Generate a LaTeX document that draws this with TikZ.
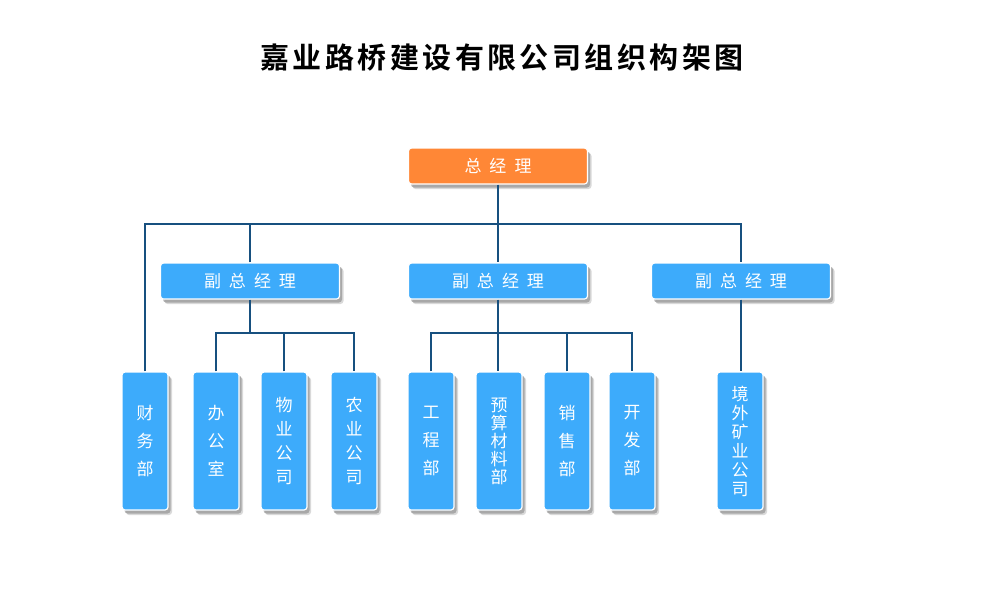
\documentclass[tikz,border=0pt]{standalone}
\usepackage{fontspec}
\setmainfont{Noto Sans CJK SC}
\newfontfamily\titlefont[LetterSpace=12]{Noto Sans CJK SC Bold}
\usetikzlibrary{shadows}
\newcommand{\cjkgap}{\hspace{8pt}}
\definecolor{bossorange}{HTML}{FF8736}
\definecolor{deptblue}{HTML}{3DABFB}
\definecolor{linkblue}{HTML}{17507F}

\begin{document}
\begin{tikzpicture}[x=1pt,y=-1pt,
    box/.style={draw=white, line width=1.2pt, rounded corners=3pt, text=white,
        drop shadow={shadow xshift=4pt, shadow yshift=-5pt, opacity=0.3},
        drop shadow={shadow xshift=2.5pt, shadow yshift=-3.5pt, opacity=0.55}},
    headbox/.style={box, fill=bossorange, minimum width=179pt, minimum height=36pt,
        font=\fontsize{17}{20}\selectfont},
    vpbox/.style={box, fill=deptblue, minimum width=179pt, minimum height=36pt,
        font=\fontsize{17}{20}\selectfont},
    deptbox/.style={box, fill=deptblue, minimum width=46pt, minimum height=138pt,
        inner sep=0pt, align=center},
    conn/.style={linkblue, line width=2pt}]
    \useasboundingbox (0,0) rectangle (1000,600);

    % Title
    \node (title) at (502,57) {\titlefont\fontsize{29}{33}\selectfont 嘉业路桥建设有限公司组织构架图};

    % General manager
    \node[headbox] (gm) at (498,166) {总\cjkgap 经\cjkgap 理};

    % Deputy general managers
    \node[vpbox] (vpl) at (250,281) {副\cjkgap 总\cjkgap 经\cjkgap 理};
    \node[vpbox] (vpm) at (498,281) {副\cjkgap 总\cjkgap 经\cjkgap 理};
    \node[vpbox] (vpr) at (741,281) {副\cjkgap 总\cjkgap 经\cjkgap 理};

    % Departments
    \node[deptbox, font=\fontsize{17}{28}\selectfont] (cw) at (145,441) {财\\务\\部};
    \node[deptbox, font=\fontsize{17}{28}\selectfont] (bg) at (216,441) {办\\公\\室};
    \node[deptbox, font=\fontsize{17}{24}\selectfont] (wy) at (284,441) {物\\业\\公\\司};
    \node[deptbox, font=\fontsize{17}{24}\selectfont] (ny) at (354,441) {农\\业\\公\\司};
    \node[deptbox, font=\fontsize{17}{28}\selectfont] (gc) at (431,441) {工\\程\\部};
    \node[deptbox, font=\fontsize{17}{18}\selectfont] (ys) at (499,441) {预\\算\\材\\料\\部};
    \node[deptbox, font=\fontsize{17}{28}\selectfont] (xs) at (567,441) {销\\售\\部};
    \node[deptbox, font=\fontsize{17}{28}\selectfont] (kf) at (632,441) {开\\发\\部};
    \node[deptbox, font=\fontsize{17}{19}\selectfont] (jw) at (740,441) {境\\外\\矿\\业\\公\\司};

    % Bus lines
    \coordinate (topbus) at (0,224);
    \coordinate (lowbus) at (0,333);

    % Top level links
    \draw[conn] (gm.south) -- (vpm.north);
    \draw[conn] (cw.north) |- (vpr.north |- topbus) -- (vpr.north);
    \draw[conn] (vpl.north) -- (vpl.north |- topbus);

    % Left deputy links
    \draw[conn] (vpl.south) -- (vpl.south |- lowbus);
    \draw[conn] (bg.north) |- (ny.north |- lowbus) -- (ny.north);
    \draw[conn] (wy.north) -- (wy.north |- lowbus);

    % Middle deputy links
    \draw[conn] (vpm.south) -- (vpm.south |- ys.north);
    \draw[conn] (gc.north) |- (kf.north |- lowbus) -- (kf.north);
    \draw[conn] (xs.north) -- (xs.north |- lowbus);

    % Right deputy link
    \draw[conn] (vpr.south) -- (vpr.south |- jw.north);
\end{tikzpicture}
\end{document}
